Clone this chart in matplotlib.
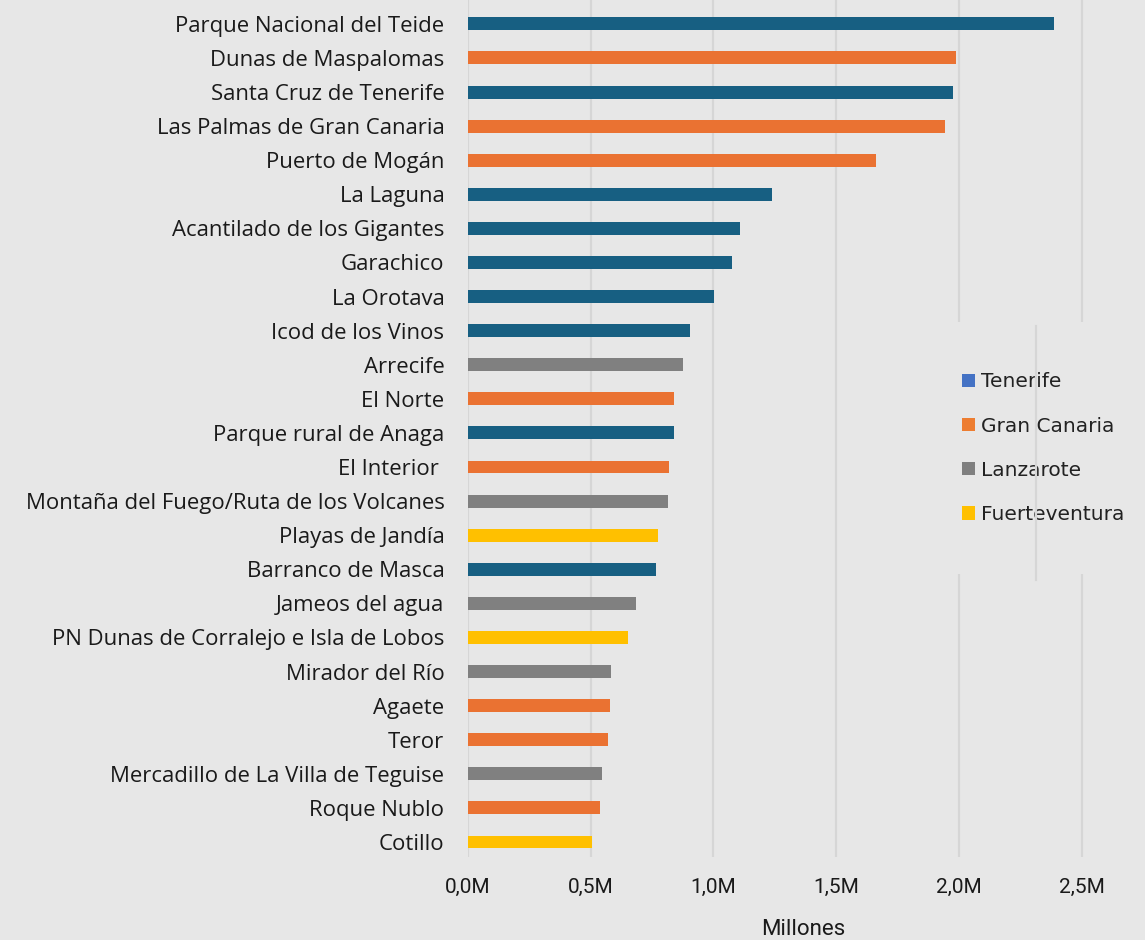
import matplotlib.pyplot as plt
from matplotlib.patches import Patch
from matplotlib.lines import Line2D

# datos
lugares = [
    "Parque Nacional del Teide", "Dunas de Maspalomas", "Santa Cruz de Tenerife",
    "Las Palmas de Gran Canaria", "Puerto de Mogán", "La Laguna",
    "Acantilado de los Gigantes", "Garachico", "La Orotava", "Icod de los Vinos",
    "Arrecife", "El Norte", "Parque rural de Anaga", "El Interior ",
    "Montaña del Fuego/Ruta de los Volcanes", "Playas de Jandía", "Barranco de Masca",
    "Jameos del agua", "PN Dunas de Corralejo e Isla de Lobos", "Mirador del Río",
    "Agaete", "Teror", "Mercadillo de La Villa de Teguise", "Roque Nublo", "Cotillo",
]
visitantes = [
    2.388, 1.989, 1.976, 1.944, 1.663, 1.239, 1.108, 1.076, 1.002, 0.905,
    0.876, 0.839, 0.839, 0.819, 0.815, 0.774, 0.766, 0.685, 0.652, 0.583,
    0.579, 0.570, 0.546, 0.538, 0.505,
]
islas = [
    "Tenerife", "Gran Canaria", "Tenerife", "Gran Canaria", "Gran Canaria", "Tenerife",
    "Tenerife", "Tenerife", "Tenerife", "Tenerife", "Lanzarote", "Gran Canaria",
    "Tenerife", "Gran Canaria", "Lanzarote", "Fuerteventura", "Tenerife", "Lanzarote",
    "Fuerteventura", "Lanzarote", "Gran Canaria", "Gran Canaria", "Lanzarote",
    "Gran Canaria", "Fuerteventura",
]
ticks = [0, 0.5, 1.0, 1.5, 2.0, 2.5]
tick_labels = ["0,0M", "0,5M", "1,0M", "1,5M", "2,0M", "2,5M"]

colores_barra = {"Tenerife": "#175f82", "Gran Canaria": "#ea7232",
                 "Lanzarote": "#808080", "Fuerteventura": "#ffc000"}
colores_leyenda = {"Tenerife": "#4472c4", "Gran Canaria": "#ed7d31",
                   "Lanzarote": "#7f7f7f", "Fuerteventura": "#ffc000"}

fondo = "#e7e7e7"
fig = plt.figure(figsize=(11.45, 9.4), dpi=100, facecolor=fondo)
ax = fig.add_axes([468 / 1145, 1 - 857 / 940, (1138 - 468) / 1145, 857 / 940])
ax.set_facecolor(fondo)

y = list(range(len(lugares)))
ax.barh(y, visitantes, height=0.38, color=[colores_barra[i] for i in islas], zorder=3)

ax.set_ylim(24.44, -0.7)
ax.set_xlim(0, 2.73)
ax.set_yticks(y)
ax.set_yticklabels(lugares, fontsize=15.9, family="Open Sans", color="#1a1a1a")
ax.set_xticks(ticks)
ax.set_xticklabels(tick_labels, fontsize=15, family="Roboto", color="#1a1a1a")
ax.tick_params(axis="y", length=0, pad=17)
ax.tick_params(axis="x", length=0, pad=15)
ax.set_xlabel("Millones", fontsize=16, family="Roboto", color="#1a1a1a", labelpad=16)
ax.grid(axis="x", color="#d6d6d6", linewidth=1.6, zorder=0)
for s in ax.spines.values():
    s.set_visible(False)

# leyenda
handles = [Patch(facecolor=colores_leyenda[k], edgecolor="none") for k in colores_leyenda]
leg = fig.legend(handles, list(colores_leyenda), loc="upper left",
                 bbox_to_anchor=(912 / 1145, 1 - 322 / 940),
                 frameon=True, facecolor=fondo, edgecolor="none", framealpha=1,
                 prop={"family": "DejaVu Sans", "size": 14.5}, labelspacing=1.25,
                 handlelength=0.65, handleheight=0.65, handletextpad=0.3,
                 borderpad=2.5, borderaxespad=0, labelcolor="#222222")

# linea suelta que atraviesa la leyenda
fig.add_artist(Line2D([1036 / 1145, 1036 / 1145], [1 - 326 / 940, 1 - 580 / 940],
                      color="#d6d6d6", linewidth=1.6, zorder=10))

fig.savefig("out.png", dpi=100, facecolor=fondo)
